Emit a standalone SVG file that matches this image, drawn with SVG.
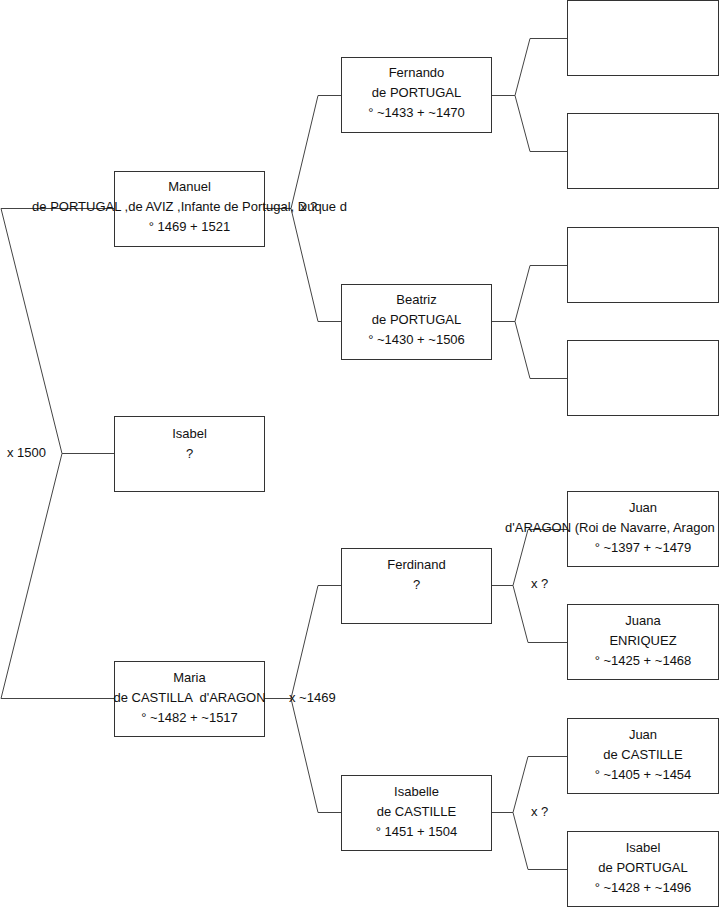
<svg xmlns="http://www.w3.org/2000/svg" width="719" height="908" viewBox="0 0 719 908">
<style>
.box{fill:#fff;stroke:#333;stroke-width:1}
.ln{fill:none;stroke:#444;stroke-width:1}
text{font-family:"Liberation Sans",Arial,sans-serif;font-size:13px;fill:#111}
.c{text-anchor:middle}
</style>
<rect width="719" height="908" fill="#fff"/>
<g id="connectors">
<polyline class="ln" points="114,208.5 1,208.5 62,453.5 1,698.5 114,698.5"/>
<line class="ln" x1="62" y1="453.5" x2="114" y2="453.5"/>
<polyline class="ln" points="341,95.5 318,95.5 291,208.5 318,321.5 341,321.5"/>
<line class="ln" x1="265" y1="208.5" x2="291" y2="208.5"/>
<polyline class="ln" points="341,585.5 318,585.5 291,698.5 318,812.5 341,812.5"/>
<line class="ln" x1="265" y1="698.5" x2="291" y2="698.5"/>
<polyline class="ln" points="568,38.5 530,38.5 515,95.5 530,151.5 568,151.5"/>
<line class="ln" x1="491" y1="95.5" x2="515" y2="95.5"/>
<polyline class="ln" points="568,265.5 530,265.5 515,321.5 530,378.5 568,378.5"/>
<line class="ln" x1="491" y1="321.5" x2="515" y2="321.5"/>
<polyline class="ln" points="568,529.5 528,529.5 513,585.5 528,642.5 568,642.5"/>
<line class="ln" x1="491" y1="585.5" x2="513" y2="585.5"/>
<polyline class="ln" points="568,756.5 528,756.5 513,812.5 528,869.5 568,869.5"/>
<line class="ln" x1="491" y1="812.5" x2="513" y2="812.5"/>
</g>
<g id="n-manuel">
<rect class="box" x="114.5" y="171.5" width="150" height="75"/>
<text class="c" x="189.5" y="191">Manuel</text>
<text class="c" x="189.5" y="211">de PORTUGAL ,de AVIZ ,Infante de Portugal, Duque d</text>
<text class="c" x="189.5" y="231">° 1469 + 1521</text>
</g>
<g id="n-isabel">
<rect class="box" x="114.5" y="416.5" width="150" height="75"/>
<text class="c" x="189.5" y="438">Isabel</text>
<text class="c" x="189.5" y="458">?</text>
</g>
<g id="n-maria">
<rect class="box" x="114.5" y="661.5" width="150" height="75"/>
<text class="c" x="189.5" y="682">Maria</text>
<text class="c" x="189.5" y="702" style="white-space:pre">de CASTILLA  d'ARAGON</text>
<text class="c" x="189.5" y="722">° ~1482 + ~1517</text>
</g>
<g id="n-fernando">
<rect class="box" x="341.5" y="57.5" width="150" height="75"/>
<text class="c" x="416.5" y="77">Fernando</text>
<text class="c" x="416.5" y="97">de PORTUGAL</text>
<text class="c" x="416.5" y="117">° ~1433 + ~1470</text>
</g>
<g id="n-beatriz">
<rect class="box" x="341.5" y="284.5" width="150" height="75"/>
<text class="c" x="416.5" y="304">Beatriz</text>
<text class="c" x="416.5" y="324">de PORTUGAL</text>
<text class="c" x="416.5" y="344">° ~1430 + ~1506</text>
</g>
<g id="n-ferdinand">
<rect class="box" x="341.5" y="548.5" width="150" height="75"/>
<text class="c" x="416.5" y="569">Ferdinand</text>
<text class="c" x="416.5" y="589">?</text>
</g>
<g id="n-isabelle">
<rect class="box" x="341.5" y="775.5" width="150" height="75"/>
<text class="c" x="416.5" y="796">Isabelle</text>
<text class="c" x="416.5" y="816">de CASTILLE</text>
<text class="c" x="416.5" y="836">° 1451 + 1504</text>
</g>
<g id="n-empty1"><rect class="box" x="567.5" y="0.5" width="151" height="75"/></g>
<g id="n-empty2"><rect class="box" x="567.5" y="113.5" width="151" height="75"/></g>
<g id="n-empty3"><rect class="box" x="567.5" y="227.5" width="151" height="75"/></g>
<g id="n-empty4"><rect class="box" x="567.5" y="340.5" width="151" height="75"/></g>
<g id="n-juan-aragon">
<rect class="box" x="567.5" y="491.5" width="151" height="75"/>
<text class="c" x="643" y="512">Juan</text>
<text x="505" y="532">d'ARAGON (Roi de Navarre, Aragon</text>
<text class="c" x="643" y="552">° ~1397 + ~1479</text>
</g>
<g id="n-juana">
<rect class="box" x="567.5" y="604.5" width="151" height="75"/>
<text class="c" x="643" y="625">Juana</text>
<text class="c" x="643" y="645">ENRIQUEZ</text>
<text class="c" x="643" y="665">° ~1425 + ~1468</text>
</g>
<g id="n-juan-castille">
<rect class="box" x="567.5" y="718.5" width="151" height="75"/>
<text class="c" x="643" y="739">Juan</text>
<text class="c" x="643" y="759">de CASTILLE</text>
<text class="c" x="643" y="779">° ~1405 + ~1454</text>
</g>
<g id="n-isabel-portugal">
<rect class="box" x="567.5" y="831.5" width="151" height="75"/>
<text class="c" x="643" y="852">Isabel</text>
<text class="c" x="643" y="872">de PORTUGAL</text>
<text class="c" x="643" y="892">° ~1428 + ~1496</text>
</g>
<g id="labels">
<text x="7" y="457">x 1500</text>
<text x="300" y="211">x ?</text>
<text x="289" y="702">x ~1469</text>
<text x="531" y="588">x ?</text>
<text x="531" y="816">x ?</text>
</g>
</svg>
